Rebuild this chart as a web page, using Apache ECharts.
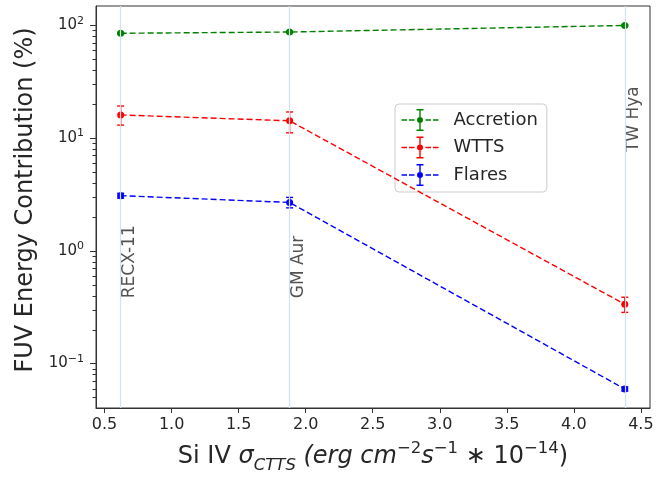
<!DOCTYPE html>
<html>
<head>
<meta charset="utf-8">
<script src="https://cdn.jsdelivr.net/npm/echarts@6/dist/echarts.min.js"></script>
<style>
html,body{margin:0;padding:0;background:#fff;}
#chart{width:665px;height:479px;}
</style>
</head>
<body>
<div id="chart"></div>
<script>
// ---- data ----
const stars = ['RECX-11', 'GM Aur', 'TW Hya'];
const siIV = [0.62, 1.88, 4.38];
const starLabelY = [0.455, 0.455, 9.0];

const accretion = [84.8, 87.0, 99.5];
const accretionLow = [83.3, 85.5, 98.0];
const accretionHigh = [86.3, 88.5, 101.0];

const wtts = [16.0, 14.2, 0.335];
const wttsLow = [13.0, 11.1, 0.284];
const wttsHigh = [19.2, 17.0, 0.387];

const flares = [3.08, 2.68, 0.0594];
const flaresLow = [2.93, 2.40, 0.0570];
const flaresHigh = [3.23, 2.97, 0.0620];

const xTicks = [0.5, 1.0, 1.5, 2.0, 2.5, 3.0, 3.5, 4.0, 4.5];
const yMajor = [0.1, 1, 10, 100];
const yMinor = [0.05, 0.06, 0.07, 0.08, 0.09,
  0.2, 0.3, 0.4, 0.5, 0.6, 0.7, 0.8, 0.9,
  2, 3, 4, 5, 6, 7, 8, 9,
  20, 30, 40, 50, 60, 70, 80, 90];

// axis ranges
const X_MIN = 0.436, X_MAX = 4.568;
const Y_MIN = 0.0403, Y_MAX = 148;

// ---- chart ----
const FONT = 'DejaVu Sans';
const TXT = '#262626';
const AX = '#333';

function pts(ys) { return siIV.map((x, i) => [x, ys[i]]); }
function errPts(lo, hi) { return siIV.map((x, i) => [x, lo[i], hi[i]]); }

function errSeries(name, lo, hi, color) {
  return {
    name: name,
    type: 'custom',
    data: errPts(lo, hi),
    encode: { x: 0, y: [1, 2] },
    z: 3,
    silent: true,
    renderItem: function (params, api) {
      const x = api.value(0);
      const p1 = api.coord([x, api.value(2)]);
      const p2 = api.coord([x, api.value(1)]);
      const cw = 3.5;
      const st = { stroke: color, lineWidth: 1.4 };
      return {
        type: 'group',
        children: [
          { type: 'line', shape: { x1: p1[0], y1: p1[1], x2: p2[0], y2: p2[1] }, style: st },
          { type: 'line', shape: { x1: p1[0] - cw, y1: p1[1], x2: p1[0] + cw, y2: p1[1] }, style: st },
          { type: 'line', shape: { x1: p2[0] - cw, y1: p2[1], x2: p2[0] + cw, y2: p2[1] }, style: st }
        ]
      };
    }
  };
}

function tickSeries(vals, len) {
  return {
    type: 'custom',
    data: vals.map(v => [X_MIN, v]),
    encode: { x: 0, y: 1 },
    clip: false,
    silent: true,
    z: 5,
    renderItem: function (params, api) {
      const p = api.coord([api.value(0), api.value(1)]);
      const y = Math.round(p[1]) + 0.5;
      return {
        type: 'line',
        shape: { x1: p[0] - len, y1: y, x2: p[0], y2: y },
        style: { stroke: AX, lineWidth: 1 }
      };
    }
  };
}

function lineSeries(name, ys, color) {
  return {
    name: name,
    type: 'line',
    data: pts(ys),
    color: color,
    symbol: 'circle',
    symbolSize: 7,
    z: 4,
    lineStyle: { color: color, width: 1.4, type: [6, 3] },
    itemStyle: { color: color },
    emphasis: { disabled: true },
    animation: false
  };
}

const legendIcon = 'path://' +
  'M0,10.3h5.5v1.4h-5.5z M7.5,10.3h5.5v1.4h-5.5z ' +
  'M24,10.3h5.5v1.4h-5.5z M31.5,10.3h5.5v1.4h-5.5z ' +
  'M17.8,0h1.4v22h-1.4z M15,0h7v1.4h-7z M15,20.6h7v1.4h-7z ' +
  'M15.5,11a3,3 0 1,1 6,0a3,3 0 1,1 -6,0z';

const option = {
  animation: false,
  backgroundColor: '#fff',
  textStyle: { fontFamily: FONT },
  grid: {
    left: 96, right: 15, top: 6, bottom: 60,
    show: true, borderColor: AX, borderWidth: 1, backgroundColor: 'transparent'
  },
  legend: {
    orient: 'vertical',
    left: 395, top: 104,
    data: ['Accretion', 'WTTS', 'Flares'],
    icon: legendIcon,
    itemWidth: 37, itemHeight: 22, itemGap: 5.5,
    padding: [5, 9, 6, 6.5],
    backgroundColor: 'rgba(255,255,255,0.85)',
    borderColor: '#cccccc', borderWidth: 1, borderRadius: 4,
    textStyle: { fontFamily: FONT, fontSize: 18, color: TXT, padding: [0, 0, 0, 10] },
    selectedMode: false
  },
  xAxis: {
    type: 'value',
    min: X_MIN, max: X_MAX,
    name: '{n|Si IV }{it|σ}{sub|CTTS}{n| }{it|(erg cm}{sup|−2}{it|s}{sup|−1}{n| ∗ 10}{sup|−14}{n|)}',
    nameLocation: 'middle',
    nameGap: 32,
    nameTextStyle: {
      fontFamily: FONT, color: TXT,
      rich: {
        n: { fontFamily: FONT, fontSize: 24, color: TXT, lineHeight: 34 },
        it: { fontFamily: FONT, fontSize: 24, fontStyle: 'italic', color: TXT, lineHeight: 34 },
        sub: { fontFamily: FONT, fontSize: 16.5, fontStyle: 'italic', color: TXT, verticalAlign: 'bottom', lineHeight: 24 },
        sup: { fontFamily: FONT, fontSize: 16.5, color: TXT, verticalAlign: 'top', lineHeight: 22 }
      }
    },
    axisLine: { show: true, lineStyle: { color: AX, width: 1 } },
    axisTick: { show: true, inside: false, length: 5, lineStyle: { color: AX }, customValues: xTicks },
    axisLabel: {
      customValues: xTicks,
      formatter: v => v.toFixed(1),
      fontFamily: FONT, fontSize: 16, color: TXT, margin: 9
    },
    splitLine: { show: false }
  },
  yAxis: {
    type: 'log', logBase: 10,
    min: Y_MIN, max: Y_MAX,
    position: 'left',
    name: 'FUV Energy Contribution (%)',
    nameLocation: 'middle',
    nameGap: 58,
    nameTextStyle: { fontFamily: FONT, fontSize: 24, color: TXT, padding: [0, 0, 0, 14] },
    axisLine: { show: true, lineStyle: { color: AX, width: 1 } },
    axisTick: { show: false },
    axisLabel: {
      customValues: yMajor,
      fontFamily: FONT, color: TXT, margin: 12,
      formatter: function (v) {
        const e = Math.round(Math.log10(v));
        return '{b|10}{s|' + (e < 0 ? '−' + (-e) : String(e)) + '}';
      },
      rich: {
        b: { fontFamily: FONT, fontSize: 15, color: TXT, lineHeight: 20 },
        s: { fontFamily: FONT, fontSize: 11, color: TXT, verticalAlign: 'top', lineHeight: 14 }
      }
    },
    splitLine: { show: false },
    minorTick: { show: false }
  },
  series: [
    {
      name: 'stars',
      type: 'scatter',
      data: siIV.map((x, i) => ({ value: [x, starLabelY[i]], name: stars[i] })),
      symbolSize: 0,
      z: 1,
      silent: true,
      label: {
        show: true,
        formatter: p => p.name,
        rotate: 90,
        position: [0, 0],
        offset: [-9, 0],
        align: 'left',
        verticalAlign: 'top',
        fontFamily: FONT, fontSize: 17, color: TXT
      },
      markLine: {
        silent: true,
        symbol: 'none',
        label: { show: false },
        lineStyle: { color: '#d6e1eb', width: 1.2, type: 'solid' },
        data: siIV.map(x => ({ xAxis: x }))
      }
    },
    lineSeries('Accretion', accretion, '#008000'),
    lineSeries('WTTS', wtts, '#ff0000'),
    lineSeries('Flares', flares, '#0000ff'),
    errSeries('Accretion err', accretionLow, accretionHigh, '#008000'),
    errSeries('WTTS err', wttsLow, wttsHigh, '#ff0000'),
    errSeries('Flares err', flaresLow, flaresHigh, '#0000ff'),
    tickSeries(yMajor, 6),
    tickSeries(yMinor, 3.5)
  ]
};

const chart = echarts.init(document.getElementById('chart'), null, { renderer: 'canvas' });
chart.setOption(option);
</script>
</body>
</html>
